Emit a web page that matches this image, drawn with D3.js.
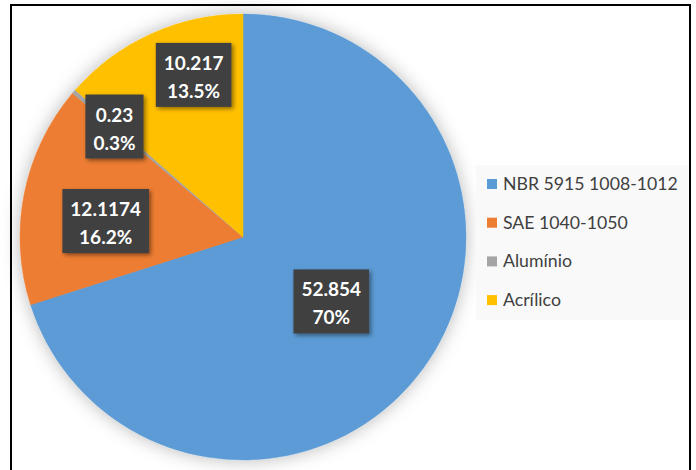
<!DOCTYPE html>
<html>
<head>
<meta charset="utf-8">
<script src="https://cdn.jsdelivr.net/npm/d3@7"></script>
<style>
  body { margin: 0; background: #fff; }
  svg { display: block; }
</style>
</head>
<body>
<div id="chart-area"></div>
<script>

// data
var categories = ["NBR 5915 1008-1012", "SAE 1040-1050", "Alumínio", "Acrílico"];
var values = [52.854, 12.1174, 0.23, 10.217];
var valueLabels = ["52.854", "12.1174", "0.23", "10.217"];
var percentLabels = ["70%", "16.2%", "0.3%", "13.5%"];
var colors = ["#5b9bd5", "#ed7d31", "#a5a5a5", "#ffc000"];

var width = 696, height = 470;
var cx = 243, cy = 237, radius = 223;

// label placement (radius fraction, angle shift in rad) - Excel nudges the small ones
var labelRadius = [0.49, 0.62, 0.76, 0.76];
var labelShift = [0, -0.08, 0, 0.13];

var svg = d3.select("#chart-area")
    .append("svg")
        .attr("width", width)
        .attr("height", height);

var defs = svg.append("defs");

var glow = defs.append("filter")
    .attr("id", "glow")
    .attr("x", "-20%").attr("y", "-20%")
    .attr("width", "140%").attr("height", "140%");
glow.append("feDropShadow")
    .attr("dx", 0).attr("dy", 0)
    .attr("stdDeviation", 9)
    .attr("flood-color", "#000")
    .attr("flood-opacity", 0.28);

var boxShadow = defs.append("filter")
    .attr("id", "boxShadow")
    .attr("x", "-20%").attr("y", "-20%")
    .attr("width", "150%").attr("height", "150%");
boxShadow.append("feDropShadow")
    .attr("dx", 2).attr("dy", 2)
    .attr("stdDeviation", 2)
    .attr("flood-color", "#000")
    .attr("flood-opacity", 0.45);

// frame
svg.append("rect")
    .attr("x", 11)
    .attr("y", 5)
    .attr("width", 679)
    .attr("height", 480)
    .attr("fill", "none")
    .attr("stroke", "#000")
    .attr("stroke-width", 2);

var pie = d3.pie()
    .sort(null)
    .value(function(d){ return d; });

var arc = d3.arc()
    .innerRadius(0)
    .outerRadius(radius);

var arcs = pie(values);

var g = svg.append("g")
    .attr("transform", "translate(" + cx + "," + cy + ")");

g.append("g")
    .attr("filter", "url(#glow)")
    .selectAll("path")
    .data(arcs)
    .enter()
    .append("path")
        .attr("d", arc)
        .attr("fill", function(d, i){ return colors[i]; })
        .attr("stroke", function(d, i){ return colors[i]; })
        .attr("stroke-width", 0.5);

// data labels
var labels = g.selectAll(".lbl")
    .data(arcs)
    .enter()
    .append("g")
        .attr("class", "lbl")
        .attr("transform", function(d, i){
            var a = (d.startAngle + d.endAngle) / 2 + labelShift[i];
            var r = radius * labelRadius[i];
            return "translate(" + (Math.sin(a) * r) + "," + (-Math.cos(a) * r) + ")";
        });

labels.each(function(d, i){
    var lg = d3.select(this);
    var bg = lg.append("rect")
        .attr("fill", "#404040")
        .attr("filter", "url(#boxShadow)");
    var t1 = lg.append("text")
        .attr("y", -5)
        .attr("text-anchor", "middle")
        .text(valueLabels[i]);
    var t2 = lg.append("text")
        .attr("y", 23)
        .attr("text-anchor", "middle")
        .text(percentLabels[i]);
    lg.selectAll("text")
        .attr("fill", "#fff")
        .attr("font-family", "Lato, 'Open Sans', sans-serif")
        .attr("font-weight", "bold")
        .attr("font-size", "19px");
    var w = Math.max(t1.node().getComputedTextLength(), t2.node().getComputedTextLength()) + 16;
    bg.attr("x", -w / 2)
        .attr("y", -32)
        .attr("width", w)
        .attr("height", 64);
});

// legend
var legend = svg.append("g")
    .attr("transform", "translate(476,165)");

legend.append("rect")
    .attr("width", 212)
    .attr("height", 155)
    .attr("fill", "#f9f9f9");

var items = legend.selectAll(".item")
    .data(categories)
    .enter()
    .append("g")
        .attr("class", "item")
        .attr("transform", function(d, i){ return "translate(11," + (19 + i * 38.7) + ")"; });

items.append("rect")
    .attr("x", 0)
    .attr("y", -5)
    .attr("width", 10)
    .attr("height", 10)
    .attr("fill", function(d, i){ return colors[i]; });

items.append("text")
    .attr("x", 16)
    .attr("y", 6)
    .attr("fill", "#404040")
    .attr("font-family", "Lato, 'Open Sans', sans-serif")
    .attr("font-size", "17.7px")
    .text(function(d){ return d; });

</script>
</body>
</html>
